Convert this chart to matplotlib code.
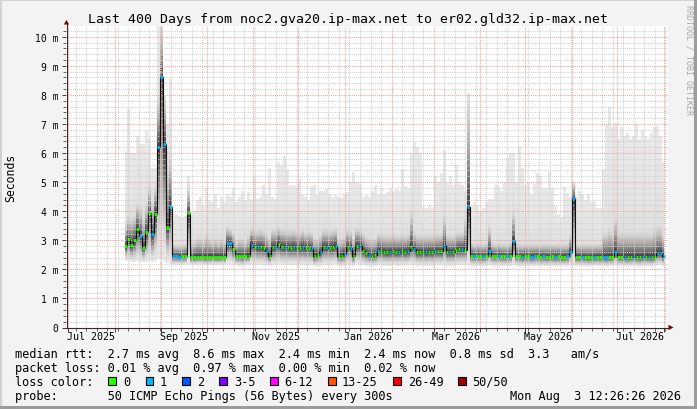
import matplotlib
matplotlib.use('Agg')
import matplotlib.pyplot as plt
import matplotlib.dates as mdates
import numpy as np
import pandas as pd
from matplotlib.patches import Rectangle, Polygon
from matplotlib.lines import Line2D

# ---------------- data ----------------
start_date = '2025-08-08'     # first sample, one sample every 2 days
end_time = '2026-08-03 12:26:26'

median_ms = [
    2.79, 3.05, 2.85, 3.00, 3.40, 3.16, 2.75, 3.27, 3.95, 3.20,
    3.90, 6.20, 8.60, 6.30, 3.45, 4.15, 2.45, 2.45, 2.44, 2.45,
    2.45, 3.93, 2.43, 2.42, 2.43, 2.44, 2.43, 2.42, 2.43, 2.44,
    2.43, 2.43, 2.44, 2.43, 2.90, 2.90, 2.70, 2.45, 2.47, 2.45,
    2.47, 2.47, 2.85, 2.78, 2.76, 2.76, 2.74, 2.62, 2.47, 2.76,
    2.76, 2.87, 2.78, 2.76, 2.76, 2.74, 2.76, 2.74, 2.72, 2.76,
    2.72, 2.74, 2.72, 2.47, 2.50, 2.58, 2.76, 2.76, 2.74, 2.76,
    2.81, 2.47, 2.47, 2.53, 2.76, 2.74, 2.47, 2.81, 2.80, 2.64,
    2.55, 2.50, 2.47, 2.50, 2.64, 2.64, 2.60, 2.58, 2.60, 2.62,
    2.59, 2.60, 2.62, 2.60, 2.63, 2.76, 2.70, 2.59, 2.59, 2.60,
    2.58, 2.60, 2.59, 2.63, 2.63, 2.62, 2.81, 2.60, 2.59, 2.60,
    2.68, 2.70, 2.70, 2.68, 4.13, 2.47, 2.46, 2.47, 2.46, 2.45,
    2.47, 2.63, 2.47, 2.46, 2.47, 2.46, 2.45, 2.46, 2.47, 2.98,
    2.46, 2.45, 2.44, 2.46, 2.45, 2.44, 2.45, 2.46, 2.44, 2.45,
    2.43, 2.44, 2.45, 2.44, 2.45, 2.43, 2.44, 2.45, 2.60, 4.44,
    2.43, 2.43, 2.44, 2.43, 2.42, 2.43, 2.43, 2.44, 2.43, 2.43,
    2.42, 2.43, 2.43, 2.60, 2.44, 2.43, 2.43, 2.42, 2.43, 2.44,
    2.43, 2.42, 2.43, 2.44, 2.43, 2.42, 2.44, 2.55, 2.56, 2.45,
]

smoke_max_ms = [
    6.08, 7.50, 6.00, 6.00, 6.60, 6.30, 6.30, 6.77, 6.50, 5.50,
    5.50, 10.4, 10.4, 7.00, 7.00, 8.55, 3.90, 3.90, 3.85, 3.80,
    3.85, 5.20, 3.85, 4.00, 4.40, 4.50, 4.20, 4.80, 4.40, 4.30,
    4.60, 4.10, 4.50, 4.30, 4.60, 4.50, 4.80, 4.30, 4.50, 4.70,
    4.40, 4.65, 4.42, 5.16, 4.42, 4.50, 4.90, 4.60, 5.50, 4.50,
    4.42, 5.69, 5.60, 5.90, 5.40, 4.88, 4.90, 4.88, 5.10, 4.60,
    4.50, 4.40, 4.88, 4.90, 4.60, 4.70, 4.70, 4.75, 4.60, 4.50,
    4.55, 4.50, 4.45, 4.60, 4.65, 5.00, 5.34, 5.00, 4.90, 4.50,
    4.55, 4.50, 4.70, 4.90, 4.60, 4.80, 4.60, 4.65, 4.76, 4.70,
    4.76, 4.70, 5.45, 4.88, 4.80, 6.00, 6.37, 6.20, 6.00, 4.14,
    4.10, 4.20, 4.14, 5.20, 5.00, 5.30, 6.10, 5.00, 5.20, 4.90,
    5.60, 5.00, 4.90, 4.70, 8.08, 4.19, 4.30, 4.20, 3.97, 4.10,
    4.30, 4.42, 4.42, 4.90, 4.88, 4.70, 5.00, 5.86, 6.00, 6.00,
    5.00, 6.25, 5.50, 4.90, 5.00, 4.60, 4.93, 5.30, 5.20, 4.80,
    4.76, 5.39, 4.80, 4.19, 3.90, 3.80, 4.83, 4.60, 4.48, 5.00,
    4.50, 4.70, 4.60, 4.40, 4.60, 4.30, 4.35, 4.10, 4.10, 5.45,
    7.00, 7.58, 6.90, 7.05, 6.50, 6.90, 6.60, 6.70, 6.50, 6.60,
    7.00, 6.50, 6.80, 6.60, 6.50, 6.70, 6.90, 6.94, 6.60, 5.70,
]

smoke_core_ms = [
    3.60, 3.90, 3.80, 3.90, 4.30, 4.20, 3.80, 4.30, 4.90, 4.30,
    4.90, 8.00, 10.4, 8.00, 5.50, 6.00, 2.90, 2.85, 2.85, 2.85,
    2.90, 4.80, 3.00, 3.00, 3.10, 3.10, 3.00, 3.20, 3.10, 3.00,
    3.10, 3.00, 3.10, 3.00, 3.50, 3.40, 3.30, 3.00, 3.10, 3.10,
    3.00, 3.20, 3.45, 3.40, 3.35, 3.40, 3.35, 3.25, 3.10, 3.40,
    3.40, 3.50, 3.40, 3.40, 3.35, 3.35, 3.40, 3.35, 3.30, 3.40,
    3.30, 3.35, 3.30, 3.10, 3.10, 3.20, 3.40, 3.40, 3.35, 3.40,
    3.45, 3.10, 3.10, 3.15, 3.40, 3.35, 3.10, 3.45, 3.40, 3.25,
    3.15, 3.10, 3.10, 3.10, 3.25, 3.25, 3.20, 3.20, 3.20, 3.25,
    3.20, 3.20, 3.25, 3.20, 3.25, 4.00, 3.30, 3.20, 3.20, 3.20,
    3.20, 3.20, 3.20, 3.25, 3.25, 3.25, 3.90, 3.20, 3.20, 3.20,
    3.30, 3.30, 3.30, 3.80, 8.00, 2.95, 2.90, 2.95, 2.90, 2.90,
    2.95, 3.50, 2.95, 2.90, 2.95, 2.90, 2.90, 2.90, 2.95, 4.00,
    2.90, 2.90, 2.90, 2.90, 2.90, 2.90, 2.90, 2.90, 2.90, 2.90,
    2.90, 2.90, 2.90, 2.90, 2.90, 2.90, 2.90, 2.90, 3.20, 5.00,
    2.90, 2.90, 2.90, 2.90, 2.90, 2.90, 2.90, 2.90, 2.90, 3.30,
    3.30, 3.40, 3.30, 3.80, 3.30, 3.30, 3.30, 3.30, 3.30, 3.30,
    3.30, 3.30, 3.30, 3.30, 3.30, 3.30, 3.40, 3.50, 3.50, 3.20,
]

smoke_min_ms = [
    2.30, 2.28, 2.25, 2.26, 2.28, 2.25, 2.24, 2.26, 2.30, 2.25,
    2.28, 2.35, 2.40, 2.30, 2.22, 2.20, 2.15, 2.16, 2.15, 2.15,
    2.16, 2.18, 2.15, 2.14, 2.15, 2.16, 2.15, 2.14, 2.15, 2.16,
    2.15, 2.15, 2.16, 2.15, 2.18, 2.18, 2.16, 2.14, 2.12, 2.10,
    2.14, 2.15, 2.18, 2.16, 2.15, 2.16, 2.15, 2.14, 2.12, 2.15,
    2.16, 2.18, 2.16, 2.15, 2.16, 2.15, 2.16, 2.15, 2.14, 2.16,
    2.14, 2.15, 2.14, 2.10, 2.12, 2.13, 2.16, 2.16, 2.15, 2.16,
    2.18, 2.12, 2.10, 2.12, 2.16, 2.15, 2.10, 2.18, 2.16, 2.14,
    2.12, 2.12, 2.10, 2.12, 2.14, 2.14, 2.13, 2.12, 2.13, 2.14,
    2.13, 2.13, 2.14, 2.13, 2.14, 2.16, 2.15, 2.13, 2.13, 2.13,
    2.12, 2.13, 2.13, 2.14, 2.14, 2.14, 2.16, 2.13, 2.13, 2.13,
    2.14, 2.15, 2.15, 2.14, 2.15, 2.12, 2.12, 2.12, 2.11, 2.12,
    2.12, 2.14, 2.12, 2.12, 2.12, 2.12, 2.11, 2.12, 2.12, 2.14,
    2.12, 2.11, 2.10, 2.12, 2.11, 2.10, 2.11, 2.12, 2.10, 2.11,
    2.10, 2.11, 2.11, 2.10, 2.11, 2.10, 2.10, 2.11, 2.14, 2.16,
    2.10, 2.10, 2.11, 2.10, 2.09, 2.10, 2.10, 2.11, 2.10, 2.10,
    2.09, 2.10, 2.10, 2.14, 2.11, 2.10, 2.10, 2.09, 2.10, 2.11,
    2.10, 2.09, 2.10, 2.11, 2.10, 2.09, 2.11, 2.14, 2.14, 2.12,
]

loss_class = [
    0, 0, 0, 0, 0, 1, 0, 0, 0, 1,
    0, 1, 1, 1, 0, 1, 1, 1, 1, 0,
    0, 0, 0, 0, 0, 0, 0, 0, 0, 0,
    0, 0, 0, 0, 1, 1, 0, 0, 0, 0,
    0, 0, 1, 0, 1, 0, 0, 1, 0, 0,
    1, 0, 0, 1, 0, 0, 1, 0, 0, 1,
    0, 0, 1, 0, 0, 1, 0, 1, 0, 0,
    1, 0, 0, 1, 0, 1, 0, 0, 1, 0,
    0, 1, 0, 0, 1, 0, 0, 0, 1, 0,
    0, 1, 0, 0, 1, 0, 1, 0, 0, 0,
    1, 0, 0, 1, 0, 0, 1, 0, 1, 0,
    0, 0, 1, 0, 1, 0, 1, 0, 0, 1,
    0, 1, 0, 0, 1, 0, 0, 1, 0, 1,
    0, 0, 1, 0, 0, 1, 1, 0, 0, 1,
    0, 0, 0, 1, 0, 0, 0, 1, 1, 1,
    0, 0, 1, 0, 0, 0, 1, 0, 0, 1,
    1, 0, 0, 1, 0, 0, 1, 0, 0, 1,
    0, 0, 1, 0, 1, 0, 0, 1, 1, 1,
]

loss_labels = ['0', '1', '2', '3-5', '6-12', '13-25', '26-49', '50/50']
loss_colors = ['#26ff00', '#00b8ff', '#0059ff', '#7e00ff',
               '#ff00ff', '#ff5500', '#ff0000', '#a10000']
ytick_labels = ['0', '1 m', '2 m', '3 m', '4 m', '5 m', '6 m', '7 m', '8 m', '9 m', '10 m']
xlabel_months = ['2025-07-01', '2025-09-01', '2025-11-01', '2026-01-01',
                 '2026-03-01', '2026-05-01', '2026-07-01']

title = 'Last 400 Days from noc2.gva20.ip-max.net to er02.gld32.ip-max.net'
legend_line1 = 'median rtt:  2.7 ms avg  8.6 ms max  2.4 ms min  2.4 ms now  0.8 ms sd  3.3   am/s'
legend_line2 = 'packet loss: 0.01 % avg  0.97 % max  0.00 % min  0.02 % now'
legend_line3 = 'loss color:'
legend_line4 = 'probe:       50 ICMP Echo Pings (56 Bytes) every 300s'
stamp = 'Mon Aug  3 12:26:26 2026'

# ---------------- figure ----------------
MONO = 'DejaVu Sans Mono'
W, H = 697, 410
fig = plt.figure(figsize=(W / 100, H / 100), dpi=100, facecolor='#f3f3f3')


def fx(px):
    return px / W


def fy(py):
    return 1 - py / H


PX0, PX1, PY0, PY1 = 66.0, 667.6, 328.5, 27.0
ax = fig.add_axes([fx(PX0), fy(PY0), fx(PX1) - fx(PX0), fy(PY1) - fy(PY0)])
ax.set_facecolor('white')
T1 = pd.Timestamp(end_time)
T0 = T1 - pd.Timedelta(days=400)
ax.set_xlim(mdates.date2num(T0), mdates.date2num(T1))
YMAX = 10.37
ax.set_ylim(0, YMAX)
for s in ax.spines.values():
    s.set_visible(False)

dates = pd.date_range(start_date, periods=len(median_ms), freq='2D')
x = mdates.date2num(dates)
m = np.array(median_ms)
hi = np.array(smoke_max_ms)
core = np.array(smoke_core_ms)
lo = np.array(smoke_min_ms)

# smoke: layered bands, light outside, dark near the median
K = 36
for j in range(K):
    r = 1 - j / K
    if r > 0.8:
        up = core + (hi - core) * (r - 0.8) / 0.2
    else:
        up = m + (core - m) * (r / 0.8)
    dn = m - (m - lo) * r ** 0.9
    g = 0.91 - 0.70 * (1 - r) ** 1.8
    ax.fill_between(x, dn, up, step='mid', color=(g, g, g), lw=0, zorder=1)

# grid (drawn over the smoke like rrdtool)
months = pd.date_range('2025-07-01', '2026-08-01', freq='MS')
weeks = pd.date_range('2025-06-29', '2026-08-03', freq='W-SUN')
mnum = set(mdates.date2num(months))
gcol = '#d0d0d0'
rcol = '#eea0a0'
dash = (0, (1, 1))
for w in mdates.date2num(weeks):
    if w not in mnum:
        ax.axvline(w, color=gcol, lw=0.75, ls=dash, zorder=3)
for v in np.arange(1, 52) * 0.2:
    if abs(v - round(v)) > 1e-6 and v < YMAX:
        ax.axhline(v, color=gcol, lw=0.75, ls=dash, zorder=3)
for mm in mnum:
    ax.axvline(mm, color=rcol, lw=0.75, ls=dash, zorder=3)
for k in range(1, 11):
    ax.axhline(k, color=rcol, lw=0.75, ls=dash, zorder=3)

# median line
ax.plot(x, m, drawstyle='steps-mid', color='#101010', lw=0.8, zorder=4)
seg_cols = [loss_colors[c] for c in loss_class]
ax.hlines(m, x - 0.8, x + 0.8, colors=seg_cols, lw=2.0, zorder=5)

# ticks
ax.set_yticks(range(11))
ax.set_yticklabels(ytick_labels, fontfamily=MONO, fontsize=7)
ax.set_yticks(np.arange(0, 10.4, 0.2), minor=True)
ax.tick_params(axis='y', which='major', length=3, width=0.7, color='#404040', pad=2.4)
ax.tick_params(axis='y', which='minor', length=2, width=0.7, color='#606060')
ax.set_xticks(sorted(mnum))
ax.set_xticklabels([])
ax.set_xticks([w for w in mdates.date2num(weeks) if mdates.date2num(T0) <= w], minor=True)
ax.tick_params(axis='x', which='major', length=3, width=0.7, color='#404040')
ax.tick_params(axis='x', which='minor', length=2, width=0.7, color='#606060')

xtr = ax.get_xaxis_transform()
for lab in xlabel_months:
    d = pd.Timestamp(lab)
    pos = mdates.date2num(d + pd.Timedelta(days=15))
    ax.text(pos, (PY0 - 340.5) / (PY0 - PY1), d.strftime('%b %Y'), transform=xtr,
            ha='center', va='baseline', fontfamily=MONO, fontsize=7.2, clip_on=False)

# axes lines with arrows (figure coords)
acol = '#3a2a2a'
arrow_col = '#7f0000'
fig.add_artist(Line2D([fx(66.5), fx(66.5)], [fy(PY0 + 0.5), fy(25)], color=acol, lw=0.8))
fig.add_artist(Line2D([fx(65.5), fx(669)], [fy(PY0), fy(PY0)], color=acol, lw=0.8))
fig.add_artist(Polygon([[fx(63.8), fy(25.5)], [fx(69.2), fy(25.5)], [fx(66.5), fy(21.0)]],
                       closed=True, color=arrow_col, lw=0))
fig.add_artist(Polygon([[fx(668.5), fy(PY0 - 2.7)], [fx(668.5), fy(PY0 + 2.7)], [fx(673.5), fy(PY0)]],
                       closed=True, color=arrow_col, lw=0))

# titles
fig.text(fx(348), fy(22.5), title, ha='center', va='baseline', fontfamily=MONO, fontsize=9.5)
fig.text(fx(10.5), fy(177.5), 'Seconds', rotation=90, ha='center', va='center',
         fontfamily=MONO, fontsize=8.3)
fig.text(fx(688.5), fy(60), 'RRDTOOL / TOBI OETIKER', rotation=270, ha='center', va='center',
         fontfamily=MONO, fontsize=6.0, color='#a8a8a8')

# legend
LX = 14.6
LFS = 8.55
fig.text(fx(LX), fy(358), legend_line1, ha='left', va='baseline', fontfamily=MONO, fontsize=LFS)
fig.text(fx(LX), fy(372), legend_line2, ha='left', va='baseline', fontfamily=MONO, fontsize=LFS)
fig.text(fx(LX), fy(386), legend_line3, ha='left', va='baseline', fontfamily=MONO, fontsize=LFS)
fig.text(fx(LX), fy(400), legend_line4, ha='left', va='baseline', fontfamily=MONO, fontsize=LFS)
fig.text(fx(680.5), fy(400), stamp, ha='right', va='baseline', fontfamily=MONO, fontsize=LFS)

box_x = [108.3, 145.5, 182.0, 219.0, 270.0, 328.0, 393.0, 458.0]
lab_x = [123.3, 160.0, 197.0, 234.0, 284.0, 342.0, 408.0, 472.0]
for bx, tx, lab, col in zip(box_x, lab_x, loss_labels, loss_colors):
    fig.add_artist(Rectangle((fx(bx), fy(386)), 7.7 / W, 7.7 / H, facecolor=col,
                             edgecolor='black', lw=0.8))
    fig.text(fx(tx), fy(386), lab, ha='left', va='baseline', fontfamily=MONO, fontsize=LFS)

# 3D frame
fig.add_artist(Rectangle((0, fy(2)), 1, 2 / H, facecolor='#d2d2d2', lw=0))
fig.add_artist(Rectangle((0, 0), 2 / W, 1, facecolor='#d2d2d2', lw=0))
fig.add_artist(Rectangle((fx(694), 0), 3 / W, 1, facecolor='#9c9c9c', lw=0))
fig.add_artist(Rectangle((0, 0), 1, 3 / H, facecolor='#9c9c9c', lw=0))

fig.savefig('out.png', dpi=100, facecolor=fig.get_facecolor())
